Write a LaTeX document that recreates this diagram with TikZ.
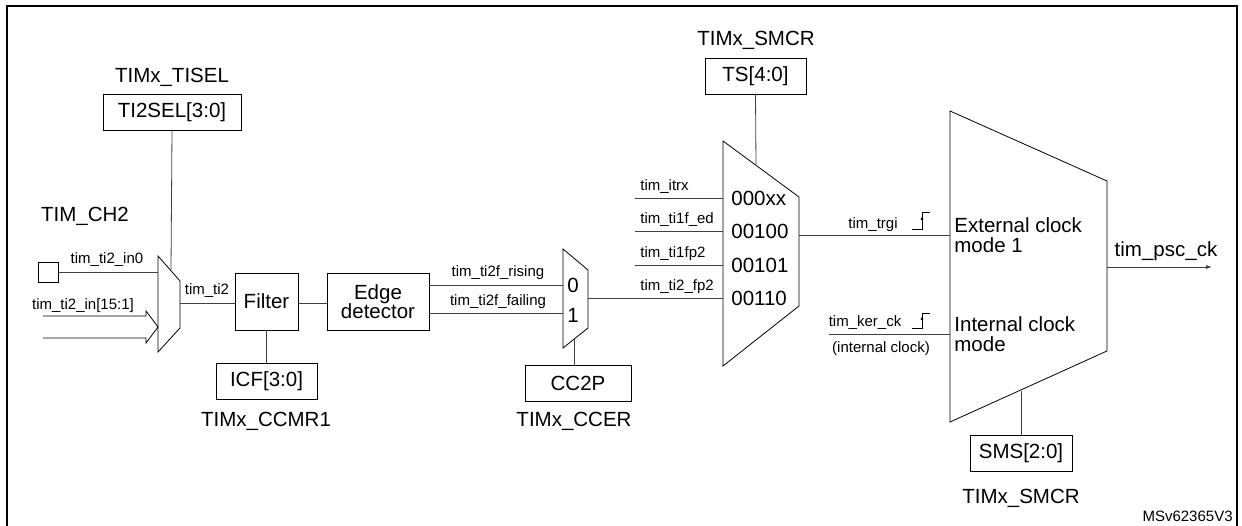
\documentclass[tikz,border=0pt]{standalone}
\usepackage{fontspec}
\setmainfont{Liberation Sans}
\usetikzlibrary{arrows.meta}
\begin{document}
\begin{tikzpicture}[x=1pt,y=-1pt,line width=0.8pt,
  big/.style={font=\fontsize{20.5}{22}\selectfont,inner sep=0pt},
  sm/.style={font=\fontsize{15}{17}\selectfont,inner sep=0pt},
  box/.style={draw,big,minimum height=36pt,inner sep=0pt},
  ln/.style={draw=black!75}]
\useasboundingbox (0,0) rectangle (1242,526);
\begin{scope}
\clip (0,0) rectangle (1242,526);
\draw[line width=2.5pt] (7,6) rectangle (1237,540);
\end{scope}
% left
\node[big] (tisel) at (172,77) {TIMx\_TISEL};
\node[box,minimum width=138pt] (ti2sel) at (172,112) {TI2SEL[3:0]};
\node[big] (ch2) at (85,216) {TIM\_CH2};
\node[draw,minimum width=20pt,minimum height=20pt,inner sep=0pt] (pad) at (48,272) {};
\draw (158,256) -- (180,281) -- (180,328) -- (158,352) -- cycle;
\coordinate (m1in0) at (158,272);
\coordinate (m1top) at (171,270);
\coordinate (m1out) at (180,303);
\draw[ln] (ti2sel.south) -- (m1top);
\draw[ln] (pad.east) -- (m1in0);
\node[sm] at (107,260) {tim\_ti2\_in0};
\draw (43,316) -- (146,316) -- (146,311) -- (158,327) -- (146,343) -- (146,338) -- (43,338);
\node[sm] at (83,306) {tim\_ti2\_in[15:1]};
\node[draw,big,minimum width=63pt,minimum height=57pt] (filter) at (266.5,301.5) {Filter};
\draw[ln] (m1out) -- (filter.west|-m1out);
\node[sm] at (207,291) {tim\_ti2};
\node[box,minimum width=101pt] (icf) at (266.5,381) {ICF[3:0]};
\draw[ln] (filter.south) -- (icf.north);
\node[big] (ccmr1) at (266,421) {TIMx\_CCMR1};
\node[draw,big,minimum width=102pt,minimum height=57pt,align=center] (edge) at (378,301.5) {Edge\\[-3pt]detector};
\draw[ln] (filter.east|-m1out) -- (edge.west|-m1out);
% mux2
\draw (563,249) -- (588,270) -- (588,328) -- (563,348) -- cycle;
\node[big] at (573,285) {0};
\node[big] at (573,315) {1};
\draw[ln] (429,285) -- (563,285);
\draw[ln] (429,313) -- (563,313);
\node[sm] at (498,273) {tim\_ti2f\_rising};
\node[sm] at (498,302) {tim\_ti2f\_failing};
\node[box,minimum width=106pt] (cc2p) at (578,383) {CC2P};
\draw[ln] (574,339) -- (574,365);
\node[big] (ccer) at (574,421) {TIMx\_CCER};
% mux3
\draw (723,141) -- (799,197) -- (799,306) -- (723,366) -- cycle;
\node[big] (smcr1) at (756,40) {TIMx\_SMCR};
\node[box,minimum width=101pt] (ts) at (755.5,76) {TS[4:0]};
\draw[ln] (ts.south) -- (756,165);
\draw[ln] (588,298) -- (723,298);
\foreach \y/\l/\c in {198/tim\_itrx/000xx,231/tim\_ti1f\_ed/00100,265/tim\_ti1fp2/00101,298/tim\_ti2\_fp2/00110}{
  \draw[ln] (635,\y) -- (723,\y);
  \node[sm,anchor=south west] at (640,\y-4) {\l};
  \node[big,anchor=west] at (731,\y) {\c};
}
% big block
\draw (950,111) -- (1107,181) -- (1107,351) -- (950,422) -- cycle;
\draw[ln] (799,235) -- (950,235);
\node[sm] at (873,225) {tim\_trgi};
\draw[line width=0.6pt] (912,229) -- (922,229) -- (922,212) -- (930,212);
\draw[-{Latex[length=4pt,width=3pt]},line width=0.6pt] (922,226) -- (922,216);
\node[big,anchor=west,align=left] at (954,235) {External clock\\[-2pt]mode 1};
\draw[ln] (829,334) -- (950,334);
\node[sm] at (865,323) {tim\_ker\_ck};
\draw[line width=0.6pt] (912,328) -- (922,328) -- (922,313) -- (930,313);
\draw[-{Latex[length=4pt,width=3pt]},line width=0.6pt] (922,325) -- (922,316);
\node[sm] at (881,349) {(internal clock)};
\node[big,anchor=west,align=left] at (954,334) {Internal clock\\[-2pt]mode};
\draw[ln,-{Latex[length=6pt,width=4pt]}] (1107,267) -- (1212,267);
\node[big] at (1166,251) {tim\_psc\_ck};
\node[box,minimum width=102pt] (sms) at (1021,453.5) {SMS[2:0]};
\draw[ln] (1021,391) -- (sms.north);
\node[big] (smcr2) at (1021,498) {TIMx\_SMCR};
\node[sm,anchor=east] at (1233,516) {MSv62365V3};
\end{tikzpicture}
\end{document}
